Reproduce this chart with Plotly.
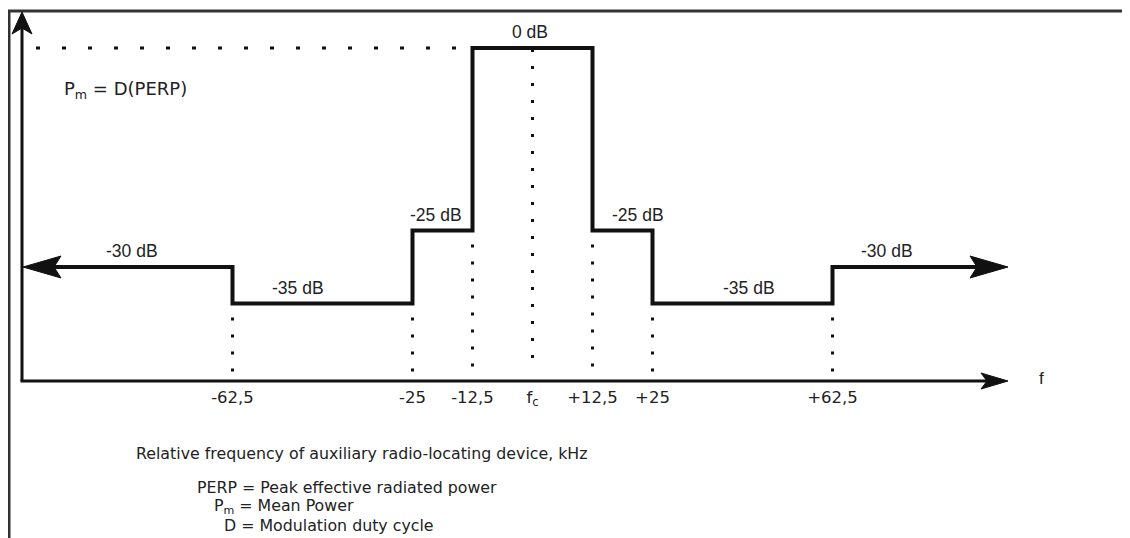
import plotly.graph_objects as go

# ---------------- data ----------------
edges_khz = [-62.5, -25, -12.5, 12.5, 25, 62.5]
levels_db = [-30, -35, -25, 0, -25, -35, -30]
level_labels = ["-30 dB", "-35 dB", "-25 dB", "0 dB", "-25 dB", "-35 dB", "-30 dB"]
tick_vals = [-62.5, -25, -12.5, 0, 12.5, 25, 62.5]
tick_text = ["-62,5", "-25", "-12,5", "f<sub>c</sub>", "+12,5", "+25", "+62,5"]
x_axis_title = "Relative frequency of auxiliary radio-locating device, kHz"
formula_text = "P<sub>m</sub> = D(PERP)"
legend_lines = ["PERP = Peak effective radiated power",
                "P<sub>m</sub> = Mean Power",
                "D = Modulation duty cycle"]
axis_name = "f"

# ---------------- geometry (layout, page pixels) ----------------
PAGE_W, PAGE_H = 1130, 538
OFF = 8                          # default page body margin
W, H = PAGE_W - OFF, PAGE_H - OFF
FC_PX, KHZ_PX = 532.5, 4.8       # page pixel of fc, pixels per kHz
ZERO_DB_PX, DB_PX = 48.0, 7.3    # page pixel of 0 dB, pixels per dB


def fx(px):
    return (px - FC_PX) / KHZ_PX


def fy(py):
    return (ZERO_DB_PX - py) / DB_PX


def pxp(px):
    return (px - OFF) / W


def pyp(py):
    return 1 - (py - OFF) / H


axis_left = fx(22)
axis_right = fx(1008)
axis_floor = fy(381)
axis_top = fy(12)
INK = "#111111"
TXT = "#222222"

fig = go.Figure()

# stepped mask line
xs = [fx(45)]
ys = [levels_db[0]]
for i, e in enumerate(edges_khz):
    xs += [e, e]
    ys += [levels_db[i], levels_db[i + 1]]
xs.append(fx(985))
ys.append(levels_db[-1])
fig.add_trace(go.Scatter(x=xs, y=ys, mode="lines",
                         line=dict(color=INK, width=4), hoverinfo="skip",
                         showlegend=False))

# dotted verticals from each step down to the axis
dot_px = 1.0 / DB_PX
for i, e in enumerate(edges_khz):
    lower = min(levels_db[i], levels_db[i + 1])
    fig.add_trace(go.Scatter(x=[e, e], y=[lower - 14 * dot_px, axis_floor + 7 * dot_px],
                             mode="lines", line=dict(color=INK, width=3, dash="3px,14px"),
                             hoverinfo="skip", showlegend=False))
peak = max(levels_db)
pi = levels_db.index(peak)
fc_x = (edges_khz[pi - 1] + edges_khz[pi]) / 2
fig.add_trace(go.Scatter(x=[fc_x, fc_x], y=[peak - 1 * dot_px, axis_floor + 9 * dot_px],
                         mode="lines", line=dict(color=INK, width=3, dash="3px,14px"),
                         hoverinfo="skip", showlegend=False))
# dotted peak reference line
fig.add_trace(go.Scatter(x=[fx(36), edges_khz[pi - 1]], y=[peak, peak],
                         mode="lines", line=dict(color=INK, width=3, dash="4px,22px"),
                         hoverinfo="skip", showlegend=False))


def arrow(xa, ya, path):
    return dict(type="path", xref="x", yref="y", xsizemode="pixel", ysizemode="pixel",
                xanchor=xa, yanchor=ya, path=path, fillcolor=INK,
                line=dict(color=INK, width=1), layer="above")


shapes = [
    # frame
    dict(type="line", xref="paper", yref="paper", x0=pxp(9), x1=pxp(9),
         y0=pyp(10), y1=pyp(545), line=dict(color="#333333", width=3)),
    dict(type="line", xref="paper", yref="paper", x0=pxp(8), x1=pxp(1140),
         y0=pyp(11), y1=pyp(11), line=dict(color="#333333", width=3)),
    # axes
    dict(type="line", xref="x", yref="y", x0=fx(20.5), x1=fx(990),
         y0=axis_floor, y1=axis_floor, line=dict(color=INK, width=3)),
    dict(type="line", xref="x", yref="y", x0=axis_left, x1=axis_left,
         y0=axis_floor, y1=fy(28), line=dict(color=INK, width=3)),
    # arrow heads
    arrow(fx(23), levels_db[0], "M0,0 L38,11 L31,0 L38,-11 Z"),
    arrow(fx(1008), levels_db[-1], "M0,0 L-38,11 L-31,0 L-38,-11 Z"),
    arrow(axis_right, axis_floor, "M0,0 L-27,8 L-21,0 L-27,-8 Z"),
    arrow(axis_left, axis_top, "M0,0 L-10,-22 L0,-16 L10,-22 Z"),
]

annotations = []
label_shift = [5, -25, -7, -3, 15, 6, -33]
for i, lab in enumerate(level_labels):
    left = axis_left if i == 0 else edges_khz[i - 1]
    right = axis_right if i == len(level_labels) - 1 else edges_khz[i]
    annotations.append(dict(x=(left + right) / 2, y=levels_db[i], text=lab,
                            showarrow=False, yshift=16, xshift=label_shift[i],
                            xanchor="center", yanchor="middle",
                            font=dict(family="Liberation Sans", size=17.5, color=TXT)))

annotations.append(dict(xref="paper", yref="paper", x=pxp(1041), y=pyp(378), text=axis_name,
                        xanchor="center", yanchor="middle", showarrow=False,
                        font=dict(family="Liberation Sans", size=17, color=TXT)))
annotations.append(dict(xref="paper", yref="paper", x=pxp(62), y=pyp(90), text=formula_text,
                        xanchor="left", yanchor="middle", showarrow=False,
                        font=dict(family="DejaVu Sans", size=18, color=TXT)))
annotations.append(dict(xref="paper", yref="paper", x=pxp(134), y=pyp(453), text=x_axis_title,
                        xanchor="left", yanchor="middle", showarrow=False,
                        font=dict(family="DejaVu Sans", size=15.8, color=TXT)))
for txt, lx, ly in zip(legend_lines, [195, 212, 222], [487, 506, 525]):
    annotations.append(dict(xref="paper", yref="paper", x=pxp(lx), y=pyp(ly), text=txt,
                            xanchor="left", yanchor="middle", showarrow=False,
                            font=dict(family="DejaVu Sans", size=15.8, color=TXT)))

fig.update_layout(
    width=W, height=H, margin=dict(l=0, r=0, t=0, b=0),
    paper_bgcolor="white", plot_bgcolor="white",
    shapes=shapes, annotations=annotations,
    xaxis=dict(range=[fx(OFF), fx(PAGE_W)], anchor="free", position=pyp(381),
               tickvals=tick_vals, ticktext=tick_text, ticks="", showline=False,
               showgrid=False, zeroline=False, ticklabelstandoff=4,
               tickfont=dict(family="DejaVu Sans", size=16.5, color=TXT)),
    yaxis=dict(range=[fy(PAGE_H), fy(OFF)], visible=False),
)

fig.write_html("out.html")
